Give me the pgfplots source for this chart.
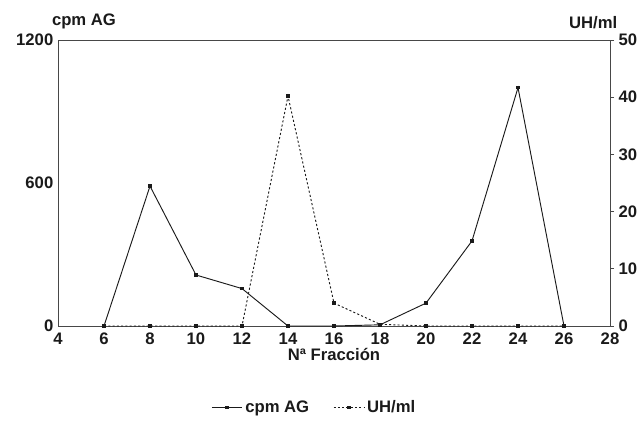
\documentclass[border=0pt]{standalone}
\usepackage{fontspec}
\setmainfont{Liberation Sans}
\usepackage{pgfplots}
\pgfplotsset{compat=1.18}
\definecolor{ink}{HTML}{1A1A1A}
\newcommand{\lblfont}{\fontsize{12.5}{14}\selectfont\bfseries}
\pgfplotsset{
  common/.style={
    scale only axis,
    width=414pt, height=214.5pt,
    xmin=4, xmax=28,
    at={(0,0)}, anchor=south west,
    tick label style={font=\lblfont, text=ink},
    /pgf/number format/assume math mode=true,
    /pgf/number format/1000 sep={},
    axis line style={draw=ink!80, line width=0.7pt},
    tick style={draw=ink!80, line width=0.7pt},
    major tick length=3pt,
    clip=false,
  },
  long legend/.style={
    legend image code/.code={
      \draw[mark repeat=2, mark phase=2, ##1]
        plot coordinates {(0cm,0cm) (0.4cm,0cm) (0.8cm,0cm)};
    },
  },
}
\begin{document}
\begin{tikzpicture}
\useasboundingbox (-43.5pt,-72pt) rectangle (438pt,244.5pt);
\begin{axis}[
  common,
  ymin=0, ymax=1200,
  ytick={0,600,1200},
  ytick pos=left,
  xtick={4,6,...,28},
  xtick pos=bottom,
  tick align=inside,
  major x tick style={draw=none},
  major y tick style={draw=none},
  xticklabel style={yshift=-1.5pt},
  xlabel={Nª Fracción},
  xlabel style={font=\lblfont, text=ink, yshift=4pt},
  ylabel={cpm AG},
  ylabel style={rotate=-90, at={(rel axis cs:0,1)}, anchor=south west,
    xshift=-8pt, yshift=5pt, font=\lblfont, text=ink},
]
\addplot[ink, line width=0.7pt, mark=square*, mark size=0.9pt] coordinates {
  (6,0) (8,587) (10,214) (12,157) (14,0) (16,0) (18,5) (20,96) (22,357) (24,1000) (26,0)
};
\end{axis}
\begin{axis}[
  common,
  ymin=0, ymax=50,
  ytick={0,10,...,50},
  axis x line=none,
  axis y line*=right,
  tick align=outside,
  ylabel={UH/ml},
  ylabel style={rotate=-90, at={(rel axis cs:1,1)}, anchor=south east,
    xshift=9pt, yshift=5pt, font=\lblfont, text=ink},
  legend style={at={(0.465,-0.285)}, anchor=center, draw=none, fill=none,
    font=\lblfont, text=ink,
    /tikz/every even column/.append style={column sep=16pt}},
  legend columns=2,
  legend cell align=left,
  long legend,
]
\addlegendimage{ink, line width=0.7pt, mark=square*, mark size=0.9pt}
\addlegendentry{cpm AG}
\addplot[ink, line width=0.7pt, dash pattern=on 1.6pt off 1.6pt,
  mark=square*, mark size=0.9pt, mark options={solid}] coordinates {
  (6,0) (8,0) (10,0) (12,0) (14,40.2) (16,4.0) (18,0.3) (20,0) (22,0) (24,0) (26,0)
};
\addlegendentry{UH/ml}
\end{axis}
\end{tikzpicture}
\end{document}
